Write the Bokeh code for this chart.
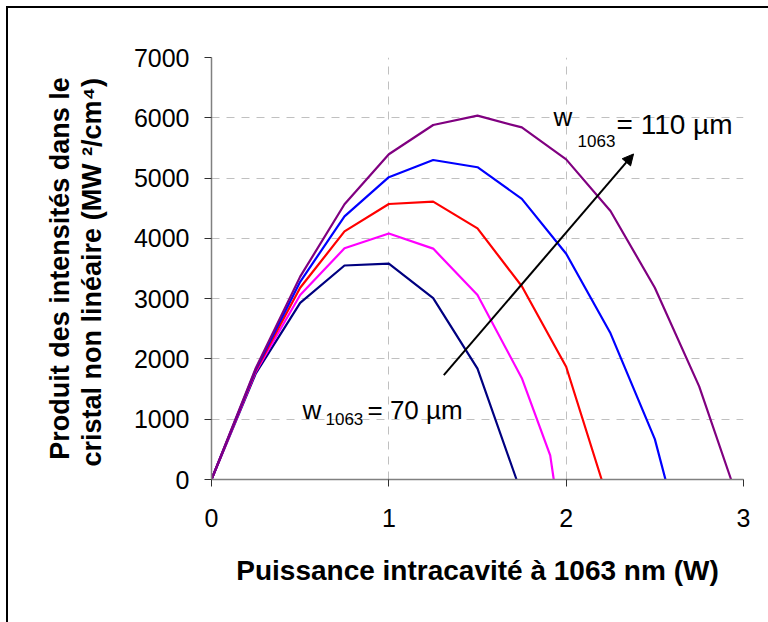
from bokeh.plotting import figure
from bokeh.models import Range1d, FixedTicker, Label, Arrow, NormalHead
from bokeh.embed import file_html
from bokeh.resources import INLINE

# ---- data ----
x_70 = [0, 0.25, 0.5, 0.75, 1.0, 1.25, 1.5, 1.72]
y_70 = [0, 1760, 2930, 3550, 3580, 3010, 1840, 0]

x_80 = [0, 0.25, 0.5, 0.75, 1.0, 1.25, 1.5, 1.75, 1.91, 1.93]
y_80 = [0, 1790, 3060, 3835, 4080, 3830, 3060, 1680, 400, 0]

x_90 = [0, 0.25, 0.5, 0.75, 1.0, 1.25, 1.5, 1.75, 2.0, 2.2]
y_90 = [0, 1810, 3180, 4115, 4570, 4610, 4165, 3205, 1870, 0]

x_100 = [0, 0.25, 0.5, 0.75, 1.0, 1.25, 1.5, 1.75, 2.0, 2.25, 2.5, 2.56]
y_100 = [0, 1830, 3280, 4365, 5015, 5300, 5180, 4655, 3745, 2425, 670, 0]

x_110 = [0, 0.25, 0.5, 0.75, 1.0, 1.25, 1.5, 1.75, 2.0, 2.25, 2.5, 2.75, 2.93]
y_110 = [0, 1850, 3365, 4565, 5395, 5880, 6035, 5840, 5310, 4455, 3180, 1545, 0]

series_colors = ["#000080", "#FF00FF", "#FF0000", "#0000FF", "#800080"]

x_ticks = [0, 1, 2, 3]
y_ticks = [0, 1000, 2000, 3000, 4000, 5000, 6000, 7000]

arrow_start = (1.31, 1730)
arrow_end = (2.38, 5400)
label_110_pos = (1.929, 5890)
label_70_pos = (0.513, 1145)

FONT = "Liberation Sans"

p = figure(width=760, height=614, output_backend="svg", toolbar_location=None,
           x_range=Range1d(0, 3), y_range=Range1d(0, 7000),
           min_border_left=203, min_border_right=25, min_border_top=49, min_border_bottom=143,
           styles={"outline": "2px solid #000", "margin-left": "8px", "margin-top": "8px"})
p.outline_line_color = None
p.background_fill_color = "white"
p.border_fill_color = "white"

for xs, ys, c in zip([x_70, x_80, x_90, x_100, x_110],
                     [y_70, y_80, y_90, y_100, y_110], series_colors):
    p.line(xs, ys, line_color=c, line_width=2.2)

p.xaxis.ticker = FixedTicker(ticks=x_ticks)
p.yaxis.ticker = FixedTicker(ticks=y_ticks)
for ax in (p.xaxis, p.yaxis):
    ax.axis_line_color = "#808080"
    ax.axis_line_width = 1.5
    ax.major_tick_line_color = "#303030"
    ax.major_tick_out = 7
    ax.major_tick_in = 0
    ax.minor_tick_line_color = None
    ax.major_label_text_font = FONT
    ax.major_label_text_font_size = "25px"
    ax.major_label_text_color = "black"
    ax.axis_label_text_font = FONT
    ax.axis_label_text_font_style = "bold"
    ax.axis_label_text_color = "black"

p.xaxis.axis_label_text_font_size = "28px"
p.yaxis.axis_label_text_font_size = "27px"
p.yaxis.axis_label_text_line_height = 1.05

p.xaxis.major_label_standoff = 22
p.yaxis.major_label_standoff = 15
p.xaxis.axis_label = "Puissance intracavité à 1063 nm (W)"
p.xaxis.axis_label_standoff = 25
p.yaxis.axis_label = "Produit des intensités dans le\ncristal non linéaire (MW  ²/cm⁴)"
p.yaxis.axis_label_standoff = 24

for g in (p.xgrid, p.ygrid):
    g.grid_line_color = "#c0c0c0"
    g.grid_line_dash = "8 7"
    g.grid_line_width = 1

p.add_layout(Arrow(end=NormalHead(size=11, fill_color="black", line_color="black"),
                   x_start=arrow_start[0], y_start=arrow_start[1],
                   x_end=arrow_end[0], y_end=arrow_end[1],
                   line_color="black", line_width=2))

def w_label(pos, w_dy, sub_dx, sub_dy, rest_dx, rest, rest_size):
    p.add_layout(Label(x=pos[0], y=pos[1], text="w", y_offset=w_dy, text_color="black",
                       text_font=FONT, text_font_size="26px", text_baseline="alphabetic"))
    p.add_layout(Label(x=pos[0], y=pos[1], text="1063", x_offset=sub_dx, y_offset=sub_dy,
                       text_color="black",
                       text_font=FONT, text_font_size="17px", text_baseline="alphabetic"))
    p.add_layout(Label(x=pos[0], y=pos[1], text=rest, x_offset=rest_dx, text_color="black",
                       text_font=FONT, text_font_size=rest_size, text_baseline="alphabetic"))

w_label(label_110_pos, 7, 24, -17, 63, "= 110 µm", "28px")
w_label(label_70_pos, 0, 23, -9, 65, "= 70 µm", "26px")

open("out.html", "w").write(file_html(p, INLINE))
